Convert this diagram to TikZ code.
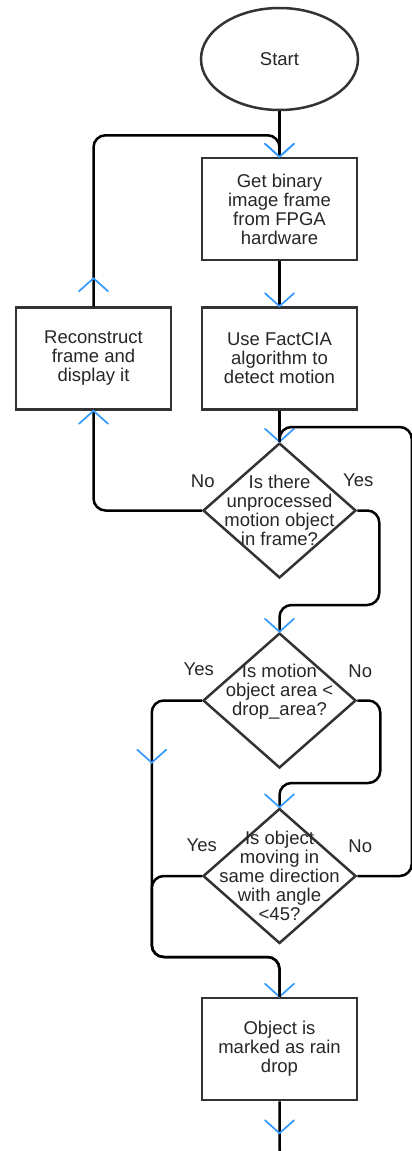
\documentclass[tikz,border=0pt]{standalone}
\usepackage{fontspec}
\setmainfont{Liberation Sans}
\usetikzlibrary{shapes.geometric, decorations.markings}

\definecolor{tipblue}{RGB}{51,153,255}
\definecolor{edgegray}{RGB}{51,51,51}

\begin{document}
\begin{tikzpicture}[x=1pt, y=1pt, node distance=150pt,
    flowtext/.style={font=\fontsize{18.5}{19}\selectfont, text=black!85},
    process/.style={flowtext, rectangle, draw=edgegray, line width=2.5pt, minimum width=155pt, minimum height=102pt, align=center, inner sep=0pt},
    terminal/.style={flowtext, ellipse, draw=edgegray, line width=2.5pt, minimum width=157pt, minimum height=102pt, inner sep=0pt},
    decision/.style={diamond, draw=edgegray, line width=2.5pt, minimum width=153pt, minimum height=135pt, inner sep=0pt},
    question/.style={flowtext, align=center, inner sep=0pt},
    answer/.style={flowtext, inner sep=0pt},
    flow/.style={draw=black, line width=2.5pt, rounded corners=12pt},
    vhead/.style={draw=tipblue, line width=1.7pt, sharp corners, line cap=round},
    tipat/.style={postaction={decorate, decoration={markings, mark=at position #1 with {\draw[vhead] (-13pt,14.5pt) -- (0pt,0pt) -- (-13pt,-14.5pt);}}}}]
    \useasboundingbox (0,0) rectangle (412,-1151);
    %
    \node [terminal] (start) at (279.5,-59) {Start};
    \node [process, below of=start] (get) {Get binary\\image frame\\from FPGA\\hardware};
    \node [process, below of=get, node distance=149.5pt] (detect) {Use FactCIA\\algorithm to\\detect motion};
    \node [process, left of=detect, node distance=186pt] (recon) {Reconstruct\\frame and\\display it};
    \node [decision, below of=detect, node distance=152pt, label={[question]center:{Is there\\unprocessed\\motion object\\in frame?}}] (motq) {};
    \node [decision, below of=motq, node distance=190pt, label={[question, yshift=9pt]center:{Is motion\\object area <\\drop\_area?}}] (areaq) {};
    \node [decision, below of=areaq, node distance=175.5pt, label={[question]center:{Is object\\moving in\\same direction\\with angle\\<45?}}] (dirq) {};
    \node [process, below of=dirq, node distance=173pt] (rain) {Object is\\marked as rain\\drop};
    %
    \draw [flow, tipat=1] (start) -- (get);
    \draw [flow, tipat=1] (get) -- (detect);
    \draw [flow, tipat=1] (detect) -- (motq);
    \draw [flow, tipat=1] (motq.west) -| node[answer, pos=0, xshift=1pt, yshift=29.5pt] {No} (recon.south);
    \draw [flow, tipat=28pt, tipat=1] (recon.north) -- ++(0,171) -| (get.north);
    \draw [flow, tipat=1] (motq.east) -- node[answer, pos=0, xshift=1pt, yshift=30pt] {Yes} ++(22,0) -- ++(0,-94.5) -| (areaq.north);
    \draw [flow, tipat=107pt, tipat=1] (areaq.west) -- node[answer, pos=0, xshift=-3pt, yshift=31pt] {Yes} ++(-50,0) -- ++(0,-256.5) -| (rain.north);
    \draw [flow, tipat=1] (areaq.east) -- node[answer, pos=0, xshift=3pt, yshift=29.5pt] {No} ++(23,0) -- ++(0,-82.5) -| (dirq.north);
    \draw [flow] (dirq.west) -- node[answer, pos=0, yshift=31pt] {Yes} ++(-50,0) -- ++(0,-81) -| (rain.north);
    \draw [flow] (dirq.east) -- node[answer, pos=0, xshift=3pt, yshift=30pt] {No} ++(54.5,0) -- ++(0,449) -| (motq.north);
    \draw [flow, tipat=32pt] (rain.south) |- ++(40,-60);
\end{tikzpicture}
\end{document}
